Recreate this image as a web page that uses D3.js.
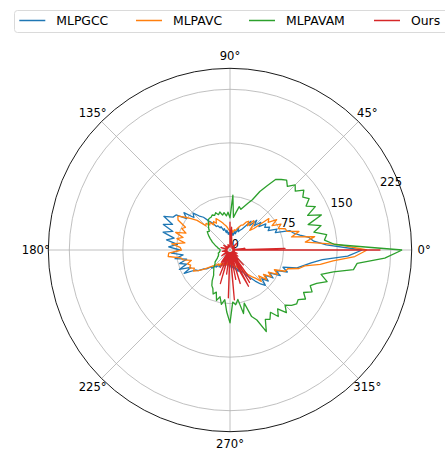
<!DOCTYPE html>
<html><head><meta charset="utf-8">
<script src="https://cdn.jsdelivr.net/npm/d3@7"></script>
<style>body{margin:0;background:#fff} svg{display:block} text{font-family:"DejaVu Sans",sans-serif}</style>
</head><body><svg id="c" width="445" height="452"></svg>
<script>
const seriesNames = ["MLPGCC", "MLPAVC", "MLPAVAM", "Ours"];
const seriesColors = ["#1f77b4", "#ff7f0e", "#2ca02c", "#d62728"];
const thetaDeg = d3.range(0, 360, 3);
const radialTicks = [0, 75, 150, 225];
const angleTicks = [0, 45, 90, 135, 180, 225, 270, 315];
const angleLabels = ["0°", "45°", "90°", "135°", "180°", "225°", "270°", "315°"];

const mlpgcc = [
  185,135,118,112,100,92,88,68,72,60,
  64,58,62,52,58,48,56,44,50,40,
  34,31,28,34,24,27,21,25,20,24,
  21,25,22,28,25,31,29,35,34,38,
  38,45,50,59,64,73,68,83,75,90,
  92,104,88,100,84,97,80,90,74,86,
  70,82,66,78,62,73,64,76,60,72,
  56,53,45,42,35,36,29,31,25,28,
  22,25,20,24,18,22,17,21,18,22,
  20,24,21,25,22,28,25,32,28,36,
  34,42,48,56,64,70,60,69,60,72,
  64,79,70,86,78,97,105,115,130,165
];
const mlpavc = [
  192,150,106,120,88,100,84,83,74,80,
  68,78,66,70,45,39,50,53,42,48,
  45,39,38,34,31,28,29,25,28,24,
  27,28,31,34,36,39,42,45,48,42,
  46,42,48,45,50,48,62,70,78,87,
  84,70,74,66,80,68,76,64,82,70,
  68,86,87,70,67,56,63,59,62,56,
  59,53,46,39,34,31,28,25,27,22,
  25,21,24,20,22,18,21,18,20,17,
  20,18,21,20,22,21,25,24,28,27,
  32,36,42,48,53,62,54,66,58,69,
  62,75,68,83,85,100,107,128,145,175
];
const mlpavam = [
  241,147,133,137,120,132,115,137,119,134,
  123,132,126,133,123,129,120,126,122,118,
  104,92,77,70,64,59,62,53,46,77,
  45,53,48,53,50,55,52,56,53,55,
  53,53,52,48,45,42,39,41,38,35,
  32,29,27,24,22,20,18,17,15,14,
  14,14,14,15,15,17,17,17,18,18,
  20,21,24,27,28,31,34,36,39,42,
  50,56,59,66,62,73,67,77,70,87,
  102,73,77,70,91,77,98,105,125,109,
  112,104,115,106,118,109,116,120,118,126,
  119,129,123,130,143,132,148,175,179,217
];
const oursTheta = [-3,0,0.8,1.6,3,6,9,20,30,45,50,70,86,88,90,92,110,125,143,150,165,175,190,200,215,225,235,238,241,244,248,251,254,258,262,265,268,271,275,278,281,284,287,291,294,297,299,301,303,305,308,312,316,322,326,335,340,350];
const oursValues = [4,210,4,77,4,21,4,7,4,13,4,7,32,4,39,4,8,4,11,4,13,4,11,4,14,4,21,4,28,4,38,4,49,4,34,4,67,4,70,4,42,4,49,4,30,57,4,53,4,50,4,28,4,14,4,11,4,7];

const svg = d3.select("#c");
const cx = 230, cy = 250, R = 181.7, rMax = 254.4;
const r = d3.scaleLinear().domain([0, rMax]).range([0, R]);
const rad = d => d * Math.PI / 180;
const g = svg.append("g").attr("transform", `translate(${cx},${cy})`);

g.selectAll("circle.grid").data(radialTicks.filter(t => t > 0)).join("circle")
  .attr("r", d => r(d)).attr("fill", "none").attr("stroke", "#b0b0b0").attr("stroke-width", 0.8);
g.selectAll("line.spoke").data(angleTicks).join("line")
  .attr("x1", 0).attr("y1", 0)
  .attr("x2", d => R * Math.cos(rad(d))).attr("y2", d => -R * Math.sin(rad(d)))
  .attr("stroke", "#b0b0b0").attr("stroke-width", 0.8);

const la = rad(22.5);
g.selectAll("text.rl").data(radialTicks).join("text")
  .attr("x", d => r(d) * Math.cos(la) + 1.5)
  .attr("y", d => -r(d) * Math.sin(la) - 2.5)
  .attr("font-size", "11.6px").attr("fill", "#000")
  .text(d => d);

g.selectAll("text.al").data(angleTicks).join("text")
  .attr("x", d => (R + 12.5) * Math.cos(rad(d)))
  .attr("y", d => -(R + 12.5) * Math.sin(rad(d)))
  .attr("text-anchor", "middle").attr("dominant-baseline", "central")
  .attr("font-size", "11.6px").attr("fill", "#000")
  .text((d, i) => angleLabels[i]);

const line = d3.lineRadial().angle(d => rad(90 - d.t)).radius(d => r(d.v));
const mk = (vals) => { const pts = thetaDeg.map((t, i) => ({t, v: vals[i]})); pts.push({t: 360, v: vals[0]}); return pts; };
const seriesData = [mk(mlpgcc), mk(mlpavc), mk(mlpavam), oursTheta.map((t, i) => ({t, v: oursValues[i]}))];
seriesData.forEach((pts, i) => {
  g.append("path").attr("d", line(pts)).attr("fill", "none")
    .attr("stroke", seriesColors[i]).attr("stroke-width", 1.3).attr("stroke-linejoin", "round");
});

g.append("circle").attr("r", R).attr("fill", "none").attr("stroke", "#000").attr("stroke-width", 0.9);

const lg = svg.append("g");
lg.append("rect").attr("x", 14.5).attr("y", 10.5).attr("width", 460).attr("height", 22)
  .attr("rx", 3).attr("fill", "#fff").attr("fill-opacity", 0.8).attr("stroke", "#d6d6d6").attr("stroke-width", 0.9);
const lx = [19.3, 136, 249, 374];
seriesNames.forEach((n, i) => {
  lg.append("line").attr("x1", lx[i]).attr("x2", lx[i] + 26).attr("y1", 20.5).attr("y2", 20.5)
    .attr("stroke", seriesColors[i]).attr("stroke-width", 1.5);
  lg.append("text").attr("x", lx[i] + 37).attr("y", 25).attr("font-size", "12.4px").attr("fill", "#000").text(n);
});
</script></body></html>
